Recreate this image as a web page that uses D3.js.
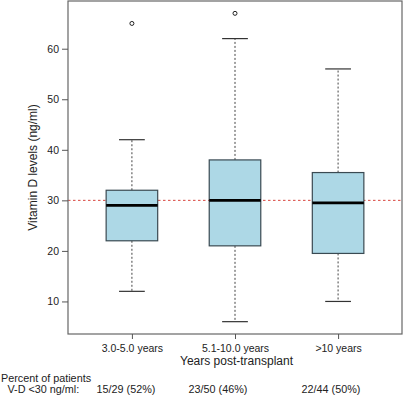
<!DOCTYPE html>
<html><head><meta charset="utf-8">
<script src="https://cdn.jsdelivr.net/npm/d3@7"></script>
<style>body{margin:0;background:#fff}svg{display:block;font-family:"Liberation Sans",Arial,sans-serif}</style>
</head><body>
<svg id="c" width="404" height="408"></svg>
<script>
const categories = ["3.0-5.0 years", "5.1-10.0 years", ">10 years"];
const lowerWhisker = [12, 6, 10];
const q1 = [22, 21, 19.5];
const median = [29, 30, 29.5];
const q3 = [32, 38, 35.5];
const upperWhisker = [42, 62, 56];
const outliers = [[65], [67], []];
const yTicks = [10, 20, 30, 40, 50, 60];
const refValue = 30;
const percentLabels = ["15/29 (52%)", "23/50 (46%)", "22/44 (50%)"];

const svg = d3.select("#c");
const L = 68, R = 402, T = 1, B = 334;
const y = d3.scaleLinear().domain([3.56, 69.44]).range([B, T]);
const x = d3.scaleLinear().domain([0.38, 3.62]).range([L, R]);
const unit = x(2) - x(1);
const bw = unit * 0.5;

// reference line
svg.append("line").attr("x1", L).attr("x2", R).attr("y1", y(refValue)).attr("y2", y(refValue))
  .attr("stroke", "#d9453f").attr("stroke-width", 1).attr("stroke-dasharray", "2.5,2.5");

categories.forEach((c, i) => {
  const cx = x(i + 1);
  const g = svg.append("g");
  g.append("line").attr("x1", cx).attr("x2", cx).attr("y1", y(q3[i])).attr("y2", y(upperWhisker[i]))
    .attr("stroke", "#444").attr("stroke-dasharray", "2,2");
  g.append("line").attr("x1", cx).attr("x2", cx).attr("y1", y(q1[i])).attr("y2", y(lowerWhisker[i]))
    .attr("stroke", "#444").attr("stroke-dasharray", "2,2");
  [upperWhisker[i], lowerWhisker[i]].forEach(v => {
    g.append("line").attr("x1", cx - bw / 4).attr("x2", cx + bw / 4).attr("y1", y(v)).attr("y2", y(v))
      .attr("stroke", "#333").attr("stroke-width", 1.2);
  });
  g.append("rect").attr("x", cx - bw / 2).attr("width", bw).attr("y", y(q3[i])).attr("height", y(q1[i]) - y(q3[i]))
    .attr("fill", "#add8e6").attr("stroke", "#3a4a52").attr("stroke-width", 1.2);
  g.append("line").attr("x1", cx - bw / 2).attr("x2", cx + bw / 2).attr("y1", y(median[i])).attr("y2", y(median[i]))
    .attr("stroke", "#000").attr("stroke-width", 2.6);
  outliers[i].forEach(v => {
    g.append("circle").attr("cx", cx).attr("cy", y(v)).attr("r", 2).attr("fill", "none").attr("stroke", "#222").attr("stroke-width", 1);
  });
});

// frame
svg.append("rect").attr("x", L).attr("y", T).attr("width", R - L).attr("height", B - T)
  .attr("fill", "none").attr("stroke", "#666").attr("stroke-width", 1.2);

// y axis
const ya = svg.append("g").attr("transform", `translate(${L},0)`)
  .call(d3.axisLeft(y).tickValues(yTicks).tickSize(6).tickPadding(3));
ya.select(".domain").remove();
ya.selectAll("line").attr("stroke", "#555");
ya.selectAll("text").attr("font-size", 10.5).attr("fill", "#222").attr("font-family", "Liberation Sans, Arial, sans-serif");

// x axis
const xa = svg.append("g").attr("transform", `translate(0,${B})`)
  .call(d3.axisBottom(x).tickValues([1, 2, 3]).tickFormat((d) => categories[d - 1]).tickSize(5).tickPadding(6));
xa.select(".domain").remove();
xa.selectAll("line").attr("stroke", "#555");
xa.selectAll("text").attr("font-size", 10.5).attr("fill", "#222").attr("font-family", "Liberation Sans, Arial, sans-serif");

// titles
svg.append("text").attr("x", 236.5).attr("y", 364.5).attr("text-anchor", "middle")
  .attr("font-size", 12).attr("fill", "#222").text("Years post-transplant");
svg.append("text").attr("transform", `translate(37,${(T + B) / 2}) rotate(-90)`).attr("text-anchor", "middle")
  .attr("font-size", 12).attr("fill", "#222").text("Vitamin D levels (ng/ml)");

svg.append("text").attr("x", 1).attr("y", 381.5).attr("font-size", 10.8).attr("fill", "#222").text("Percent of patients");
svg.append("text").attr("x", 7.5).attr("y", 393).attr("font-size", 10.8).attr("fill", "#222").text("V-D <30 ng/ml:");
const pctX = [126, 218, 331];
percentLabels.forEach((t, i) => {
  svg.append("text").attr("x", pctX[i]).attr("y", 393).attr("text-anchor", "middle")
    .attr("font-size", 10.8).attr("fill", "#222").text(t);
});
</script>
</body></html>
